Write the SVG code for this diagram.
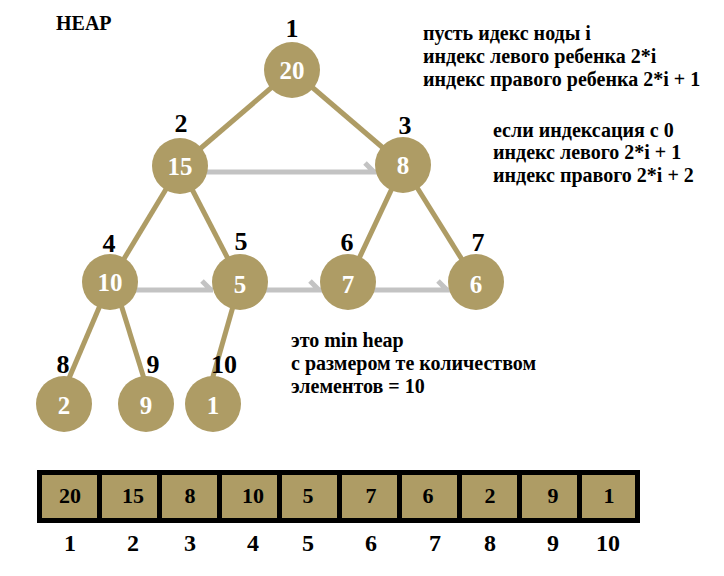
<svg xmlns="http://www.w3.org/2000/svg" width="724" height="576" viewBox="0 0 724 576" font-family="'Liberation Serif', 'DejaVu Serif', serif" font-weight="bold">
<style>
  .node circle { fill: #ae9c65; }
  .node text { fill: #ffffff; font-size: 25px; text-anchor: middle; }
  .idx { fill: #000; font-size: 26px; text-anchor: middle; }
  .note { fill: #000; font-size: 20px; }
  .edge { stroke: #ae9c65; stroke-width: 5; fill: none; }
  .link { stroke: #c3c3c3; stroke-width: 5; fill: none; }
  .cell { fill: #ae9c65; stroke: #000; stroke-width: 5; }
  .cv { fill: #000; font-size: 22px; text-anchor: middle; }
  .ci { fill: #000; font-size: 24px; text-anchor: middle; }
</style>
<rect width="724" height="576" fill="#ffffff"/>
<text x="56" y="30" class="note" font-size="16">HEAP</text>

<g id="connectors">
  <line class="edge" x1="292" y1="70" x2="180" y2="166"/>
  <line class="edge" x1="292" y1="70" x2="403" y2="165"/>
  <line class="edge" x1="180" y1="166" x2="110" y2="282"/>
  <line class="edge" x1="180" y1="166" x2="240" y2="282"/>
  <line class="edge" x1="403" y1="165" x2="348" y2="282"/>
  <line class="edge" x1="403" y1="165" x2="476" y2="282"/>
  <line class="edge" x1="110" y1="282" x2="64" y2="390"/>
  <line class="edge" x1="114" y1="282" x2="146" y2="385"/>
  <line class="edge" x1="240" y1="282" x2="212" y2="380"/>
  <path class="link" d="M200,172 H378 M365,163 L374,172"/>
  <path class="link" d="M130,290 H213 M202,281 L211,290"/>
  <path class="link" d="M260,290 H322 M310,281 L319,290"/>
  <path class="link" d="M370,290 H450 M438,281 L447,290"/>
</g>

<g id="n1" class="node"><circle cx="292" cy="70" r="28"/><text x="292" y="79">20</text></g>
<g id="n2" class="node"><circle cx="180" cy="166" r="28"/><text x="180" y="175">15</text></g>
<g id="n3" class="node"><circle cx="403" cy="165" r="28"/><text x="403" y="174">8</text></g>
<g id="n4" class="node"><circle cx="110" cy="282" r="28"/><text x="110" y="291">10</text></g>
<g id="n5" class="node"><circle cx="240" cy="282" r="28"/><text x="240" y="293">5</text></g>
<g id="n6" class="node"><circle cx="348" cy="282" r="28"/><text x="348" y="293">7</text></g>
<g id="n7" class="node"><circle cx="476" cy="282" r="28"/><text x="476" y="293">6</text></g>
<g id="n8" class="node"><circle cx="64" cy="404" r="28"/><text x="64" y="414">2</text></g>
<g id="n9" class="node"><circle cx="146" cy="404" r="28"/><text x="146" y="414">9</text></g>
<g id="n10" class="node"><circle cx="213" cy="404" r="28"/><text x="213" y="414">1</text></g>

<g id="indices">
  <text class="idx" x="292" y="37">1</text>
  <text class="idx" x="181" y="132">2</text>
  <text class="idx" x="405" y="134">3</text>
  <text class="idx" x="109" y="252">4</text>
  <text class="idx" x="241" y="250">5</text>
  <text class="idx" x="347" y="251">6</text>
  <text class="idx" x="478" y="251">7</text>
  <text class="idx" x="63" y="373">8</text>
  <text class="idx" x="153" y="373">9</text>
  <text class="idx" x="224" y="373">10</text>
</g>

<g id="notes">
  <text class="note" x="423" y="40">пусть идекс ноды i</text>
  <text class="note" x="423" y="63">индекс левого ребенка 2*i</text>
  <text class="note" x="423" y="86">индекс правого ребенка 2*i + 1</text>
  <text class="note" x="493" y="137">если индексация с 0</text>
  <text class="note" x="493" y="159">индекс левого 2*i + 1</text>
  <text class="note" x="493" y="182">индекс правого 2*i + 2</text>
  <text class="note" x="291" y="347">это min heap</text>
  <text class="note" x="291" y="370">с размером те количеством</text>
  <text class="note" x="291" y="393">элементов = 10</text>
</g>

<g id="array">
  <rect class="cell" x="39.5" y="472.5" width="60" height="48"/>
  <rect class="cell" x="99.5" y="472.5" width="60" height="48"/>
  <rect class="cell" x="159.5" y="472.5" width="60" height="48"/>
  <rect class="cell" x="219.5" y="472.5" width="60" height="48"/>
  <rect class="cell" x="279.5" y="472.5" width="60" height="48"/>
  <rect class="cell" x="339.5" y="472.5" width="60" height="48"/>
  <rect class="cell" x="399.5" y="472.5" width="60" height="48"/>
  <rect class="cell" x="459.5" y="472.5" width="60" height="48"/>
  <rect class="cell" x="519.5" y="472.5" width="60" height="48"/>
  <rect class="cell" x="579.5" y="472.5" width="58" height="48"/>
  <text class="cv" x="70" y="503">20</text>
  <text class="cv" x="133" y="503">15</text>
  <text class="cv" x="190" y="503">8</text>
  <text class="cv" x="253" y="503">10</text>
  <text class="cv" x="308" y="503">5</text>
  <text class="cv" x="371" y="503">7</text>
  <text class="cv" x="428" y="503">6</text>
  <text class="cv" x="490" y="503">2</text>
  <text class="cv" x="553" y="503">9</text>
  <text class="cv" x="609" y="503">1</text>
  <text class="ci" x="70" y="551">1</text>
  <text class="ci" x="133" y="551">2</text>
  <text class="ci" x="190" y="551">3</text>
  <text class="ci" x="253" y="551">4</text>
  <text class="ci" x="308" y="551">5</text>
  <text class="ci" x="371" y="551">6</text>
  <text class="ci" x="435" y="551">7</text>
  <text class="ci" x="490" y="551">8</text>
  <text class="ci" x="553" y="551">9</text>
  <text class="ci" x="608" y="551">10</text>
</g>
</svg>
